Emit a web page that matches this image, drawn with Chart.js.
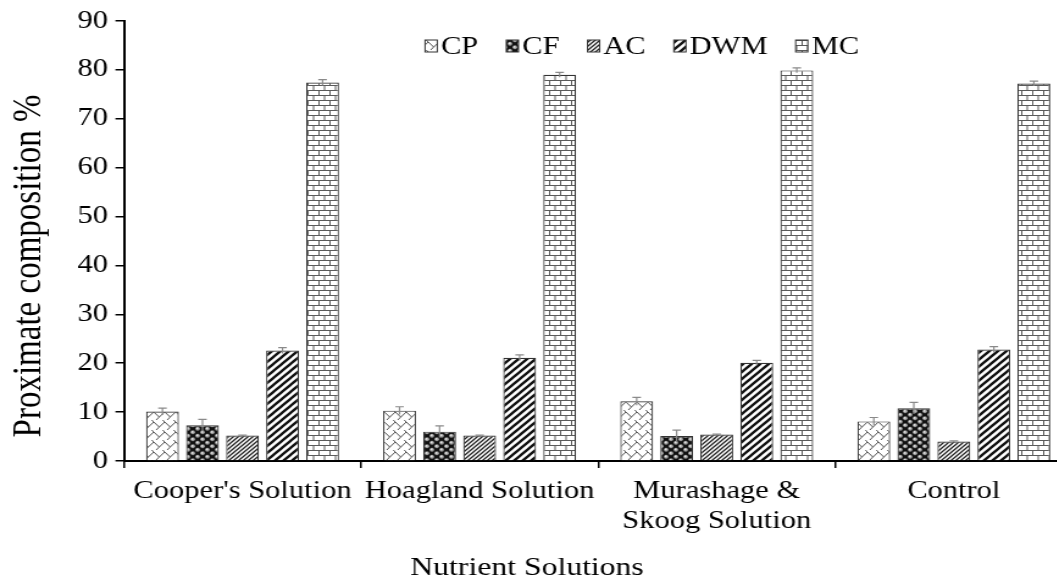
<!DOCTYPE html>
<html>
<head>
<meta charset="utf-8">
<script src="https://cdn.jsdelivr.net/npm/chart.js@4.4.0/dist/chart.umd.min.js"></script>
<style>
  html, body { margin: 0; padding: 0; background: #fff; overflow: hidden; }
  #wrap { width: 1057px; height: 583px; overflow: hidden; }
  /* the reference is stretched sideways, so the canvas is too */
  #myChart { display: block; transform: scaleX(1.22); transform-origin: 0 0; }
</style>
</head>
<body>
<div id="wrap"><canvas id="myChart" width="880" height="583"></canvas></div>
<script>
'use strict';

const categories = ["Cooper's Solution", 'Hoagland Solution', ['Murashage &', 'Skoog Solution'], 'Control'];
const seriesNames = ['CP', 'CF', 'AC', 'DWM', 'MC'];

const cpValues  = [10.1, 10.3, 12.2, 8.1];
const cfValues  = [7.3, 6.0, 5.1, 10.8];
const acValues  = [5.2, 5.2, 5.4, 4.0];
const dwmValues = [22.6, 21.1, 20.1, 22.8];
const mcValues  = [77.4, 79.0, 79.9, 77.2];

const cpErrors  = [0.7, 0.8, 0.8, 0.8];
const cfErrors  = [1.2, 1.2, 1.2, 1.2];
const acErrors  = [0.1, 0.1, 0.1, 0.1];
const dwmErrors = [0.6, 0.6, 0.5, 0.6];
const mcErrors  = [0.6, 0.5, 0.5, 0.5];

const yTicks = { min: 0, max: 90, step: 10 };
const xTitle = 'Nutrient Solutions';
const yTitle = 'Proximate composition %';

const FONT = "'Liberation Serif', 'Times New Roman', serif";
Chart.defaults.font.family = FONT;
Chart.defaults.color = '#000';

function makeTile(w, h, paint) {
  const c = document.createElement('canvas');
  c.width = w; c.height = h;
  const g = c.getContext('2d');
  paint(g, w, h);
  return g.createPattern(c, 'repeat');
}

function diag(g, s, color, lw) {
  g.strokeStyle = color; g.lineWidth = lw;
  g.beginPath();
  g.moveTo(0, s); g.lineTo(s, 0);
  g.moveTo(-s / 2, s / 2); g.lineTo(s / 2, -s / 2);
  g.moveTo(s / 2, s * 1.5); g.lineTo(s * 1.5, s / 2);
  g.stroke();
}

const patCP = makeTile(9, 10, (g, w, h) => {
  g.fillStyle = '#fff'; g.fillRect(0, 0, w, h);
  g.strokeStyle = '#555'; g.lineWidth = 1;
  g.beginPath();
  g.moveTo(0, 2); g.lineTo(4.5, 7); g.lineTo(9, 2);
  g.moveTo(4.5, 7); g.lineTo(2, 10);
  g.moveTo(9, 2); g.lineTo(6.5, -1);
  g.stroke();
});
const patCF = makeTile(8, 7, (g, w, h) => {
  g.fillStyle = '#111'; g.fillRect(0, 0, w, h);
  const dots = [[2, 1.75], [6, 5.25], [6, -1.75], [-2, 5.25], [10, 5.25], [2, 8.75]];
  dots.forEach(([cx, cy]) => {
    g.fillStyle = '#9a9a9a';
    g.beginPath(); g.arc(cx, cy, 1.9, 0, Math.PI * 2); g.fill();
    g.fillStyle = '#e4e4e4';
    g.beginPath(); g.arc(cx - 0.3, cy - 0.3, 0.9, 0, Math.PI * 2); g.fill();
  });
});
const patAC = makeTile(4, 4, (g, w, h) => {
  g.fillStyle = '#fff'; g.fillRect(0, 0, w, h);
  diag(g, 4, '#222', 1.3);
});
const patDWM = makeTile(7, 7, (g, w, h) => {
  g.fillStyle = '#fff'; g.fillRect(0, 0, w, h);
  diag(g, 7, '#111', 2.3);
});
const patMC = makeTile(9, 10, (g, w, h) => {
  g.fillStyle = '#fff'; g.fillRect(0, 0, w, h);
  g.strokeStyle = '#5a5a5a'; g.lineWidth = 1;
  g.beginPath();
  g.moveTo(0, 0.5); g.lineTo(w, 0.5);
  g.moveTo(0, 5.5); g.lineTo(w, 5.5);
  g.moveTo(0.5, 0); g.lineTo(0.5, 5);
  g.moveTo(5, 5); g.lineTo(5, 10);
  g.stroke();
});

const seriesValues = [cpValues, cfValues, acValues, dwmValues, mcValues];
const seriesErrors = [cpErrors, cfErrors, acErrors, dwmErrors, mcErrors];
const seriesFills = [patCP, patCF, patAC, patDWM, patMC];

const datasets = seriesNames.map((name, i) => ({
  label: name,
  data: seriesValues[i],
  errors: seriesErrors[i],
  backgroundColor: seriesFills[i],
  borderColor: '#333',
  borderWidth: 1.2,
  categoryPercentage: 0.844,
  barPercentage: 0.82
}));

// error bars, legend and both axis titles
const extras = {
  id: 'extras',
  afterDatasetsDraw(chart) {
    const { ctx } = chart;
    const y = chart.scales.y;
    ctx.save();
    ctx.strokeStyle = '#8a8a8a';
    ctx.lineWidth = 1.2;
    chart.data.datasets.forEach((ds, i) => {
      chart.getDatasetMeta(i).data.forEach((bar, j) => {
        const v = ds.data[j], e = ds.errors[j];
        const yTop = y.getPixelForValue(v + e);
        const yLow = y.getPixelForValue(v - e);
        ctx.beginPath();
        ctx.moveTo(bar.x, yLow); ctx.lineTo(bar.x, yTop);
        ctx.moveTo(bar.x - 3.5, yTop); ctx.lineTo(bar.x + 3.5, yTop);
        ctx.stroke();
      });
    });
    ctx.restore();
  },
  afterDraw(chart) {
    const { ctx, chartArea } = chart;
    ctx.save();
    // legend
    ctx.font = '25px ' + FONT;
    ctx.textBaseline = 'middle';
    ctx.textAlign = 'left';
    let x = 348.4;
    const yMid = 46;
    chart.data.datasets.forEach(ds => {
      ctx.fillStyle = ds.backgroundColor;
      ctx.fillRect(x, yMid - 6, 10, 12);
      ctx.strokeStyle = '#333';
      ctx.lineWidth = 1;
      ctx.strokeRect(x, yMid - 6, 10, 12);
      ctx.fillStyle = '#000';
      ctx.fillText(ds.label, x + 13, yMid + 1);
      x += 13 + ctx.measureText(ds.label).width + 23;
    });
    // x axis title
    ctx.textAlign = 'center';
    ctx.font = '26px ' + FONT;
    ctx.fillText(xTitle, chart.width / 2 - 8, 568);
    // y axis title
    ctx.translate(24.6, (chartArea.top + chartArea.bottom) / 2 + 25);
    ctx.rotate(-Math.PI / 2);
    ctx.font = '33px ' + FONT;
    ctx.fillText(yTitle, 0, 0);
    ctx.restore();
  }
};

const ctx = document.getElementById('myChart');

new Chart(ctx, {
  type: 'bar',
  data: { labels: categories, datasets: datasets },
  options: {
    responsive: false,
    animation: false,
    layout: { padding: { top: 18, right: 1, left: 0, bottom: 0 } },
    plugins: { legend: { display: false }, tooltip: { enabled: false } },
    scales: {
      x: {
        grid: { drawOnChartArea: false, tickLength: 7, color: '#000', lineWidth: 1.5, offset: true },
        border: { color: '#000', width: 2 },
        ticks: { font: { size: 25 }, color: '#000', padding: 8, maxRotation: 0, autoSkip: false },
        afterFit: s => { s.height = 122; }
      },
      y: {
        min: yTicks.min,
        max: yTicks.max,
        ticks: { stepSize: yTicks.step, font: { size: 25 }, color: '#000', padding: 6 },
        grid: { drawOnChartArea: false, tickLength: 7, color: '#000', lineWidth: 1.5 },
        border: { color: '#000', width: 2 },
        afterFit: s => { s.width = 101.6; }
      }
    }
  },
  plugins: [extras]
});
</script>
</body>
</html>
